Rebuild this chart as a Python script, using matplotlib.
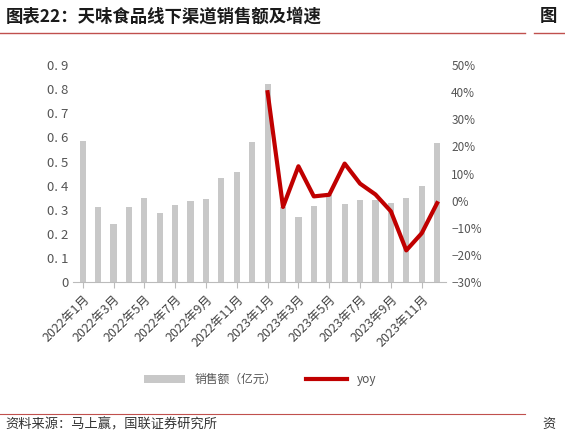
import matplotlib.pyplot as plt
from matplotlib.ticker import FuncFormatter

plt.rcParams['font.family'] = ['Noto Sans CJK SC', 'DejaVu Sans']

months = [f"{y}年{m}月" for y in (2022, 2023) for m in range(1, 13)]
sales = [0.585, 0.31, 0.24, 0.31, 0.35, 0.285, 0.32, 0.335, 0.345, 0.43, 0.455, 0.58,
         0.82, 0.31, 0.27, 0.315, 0.36, 0.325, 0.34, 0.34, 0.33, 0.35, 0.40, 0.575]
yoy = [40.0, -2.3, 12.7, 1.6, 2.2, 13.7, 6.3, 2.3, -3.9, -18.3, -12.0, -0.9]

fig = plt.figure(figsize=(5.65, 4.34), dpi=100)
fig.text(0.01, 0.962, "图表22：天味食品线下渠道销售额及增速", fontsize=12.5,
         fontweight='bold', color='#1a1a1a', va='center')
fig.text(0.955, 0.962, "图", fontsize=12.5, fontweight='bold', color='#1a1a1a', va='center')
fig.add_artist(plt.Line2D([0.0, 0.93], [0.925, 0.925], color='#c0504d', lw=1))
fig.add_artist(plt.Line2D([0.945, 1.0], [0.925, 0.925], color='#c0504d', lw=1))
fig.add_artist(plt.Line2D([0.0, 0.93], [0.045, 0.045], color='#c0504d', lw=0.8))
fig.text(0.01, 0.022, "资料来源：马上赢，国联证券研究所", fontsize=9.5, color='#333', va='center')
fig.text(0.96, 0.022, "资", fontsize=9.5, color='#333', va='center')

ax = fig.add_axes([0.13, 0.35, 0.66, 0.5])
x = list(range(len(months)))
ax.bar(x, sales, width=0.4, color='#c8c8c8', label='销售额（亿元）')
ax.set_ylim(0, 0.9)
ax.set_yticks([i / 10 for i in range(10)])
ax.yaxis.set_major_formatter(FuncFormatter(lambda v, p: "0" if v == 0 else f"{v:.1f}".replace(".", ". ")))
ax.set_xlim(-0.6, 23.6)
ax.set_xticks(x[::2])
ax.set_xticklabels(months[::2], rotation=45, ha='right', rotation_mode='anchor', fontsize=9, color='#444')
ax.tick_params(axis='y', length=0, labelsize=9.5, labelcolor='#555')
ax.tick_params(axis='x', length=4, color='#bbb', direction='out')
for s in ['top', 'right', 'left']:
    ax.spines[s].set_visible(False)
ax.spines['bottom'].set_color('#bbb')

ax2 = ax.twinx()
ax2.plot(x[12:], yoy, color='#c00000', lw=3, label='yoy')
ax2.set_ylim(-30, 50)
ax2.set_yticks(range(-30, 51, 10))
ax2.yaxis.set_major_formatter(FuncFormatter(lambda v, p: f"{v:.0f}%".replace("-", "−")))
ax2.tick_params(axis='y', length=0, labelsize=8.5, labelcolor='#555')
for s in ax2.spines.values():
    s.set_visible(False)

h1, l1 = ax.get_legend_handles_labels()
h2, l2 = ax2.get_legend_handles_labels()
fig.legend(h1 + h2, l1 + l2, loc='center', bbox_to_anchor=(0.46, 0.125), ncol=2,
           frameon=False, fontsize=8.5, handlelength=3.5, columnspacing=2.5,
           labelcolor='#555')

fig.savefig("out.png")
